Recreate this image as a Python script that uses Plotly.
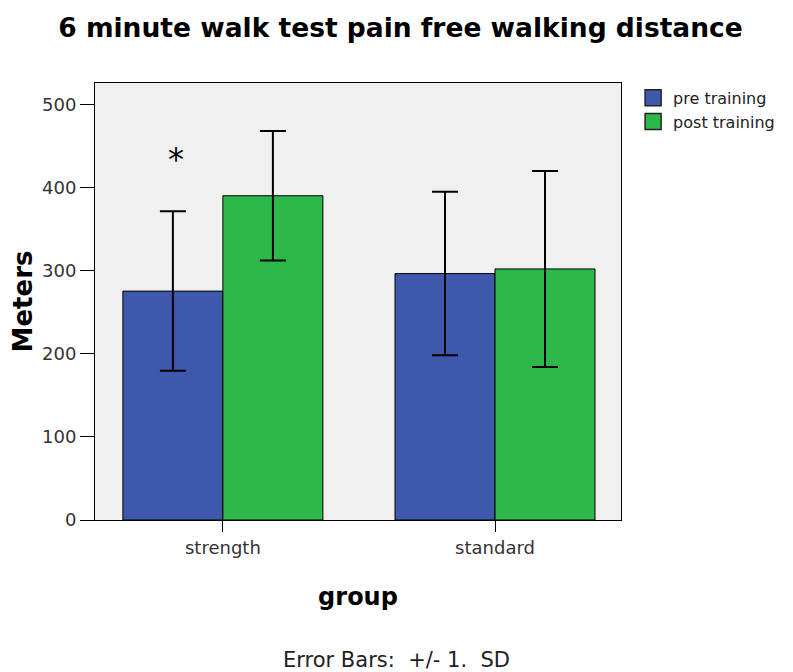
import plotly.graph_objects as go

# values (meters)
groups = ["strength", "standard"]
pre_mean = [275.5, 296.6]
pre_sd = [96.0, 98.4]
post_mean = [390.3, 302.2]
post_sd = [78.0, 118.0]

FONT = "DejaVu Sans, Arial, sans-serif"
BLUE = "#3e58ac"
GREEN = "#2eb84a"

# the page adds an 8px body margin, so the figure is a bit smaller than the window
W, H = 785, 664
L, R, T, B = 87, 172, 75, 152
plot_w = W - L - R
plot_h = H - T - B

fig = go.Figure()

fig.add_trace(go.Bar(
    x=groups, y=pre_mean, name="pre training", showlegend=False,
    marker=dict(color=BLUE, line=dict(color="black", width=1)),
    error_y=dict(type="data", array=pre_sd, visible=True,
                 color="black", thickness=2, width=13),
))
fig.add_trace(go.Bar(
    x=groups, y=post_mean, name="post training", showlegend=False,
    marker=dict(color=GREEN, line=dict(color="black", width=1)),
    error_y=dict(type="data", array=post_sd, visible=True,
                 color="black", thickness=2, width=13),
))

# larger square swatches for the legend (legend-only entries)
for name, color in [("pre training", BLUE), ("post training", GREEN)]:
    fig.add_trace(go.Scatter(
        x=[None], y=[None], mode="markers", name=name,
        marker=dict(symbol="square", size=16, color=color,
                    line=dict(color="#222", width=1.5)),
    ))

# significance marker above strength / pre training
fig.add_annotation(x=-0.173, y=434, xref="x", yref="y", text="*",
                   showarrow=False, font=dict(family=FONT, size=32, color="black"))

fig.add_annotation(x=(388 - L) / plot_w, y=-(652 - T - plot_h) / plot_h,
                   xref="paper", yref="paper",
                   text="Error Bars:  +/- 1.  SD", showarrow=False,
                   font=dict(family=FONT, size=21, color="#222"),
                   xanchor="center", yanchor="middle")

fig.update_layout(
    width=W, height=H,
    barmode="group", bargap=0.265, bargroupgap=0,
    plot_bgcolor="#f0f0f0", paper_bgcolor="white",
    margin=dict(l=L, r=R, t=T, b=B, autoexpand=False),
    title=dict(text="<b>6 minute walk test pain free walking distance</b>",
               x=0.5, xanchor="center", y=1 - 20 / H, yanchor="middle",
               font=dict(family=FONT, size=26.5, color="black")),
    font=dict(family=FONT, size=18, color="#333"),
    showlegend=True,
    legend=dict(x=1.023, y=1.005, xanchor="left", yanchor="top",
                bgcolor="rgba(0,0,0,0)", font=dict(size=16, color="#222"),
                tracegroupgap=0, itemwidth=30, itemsizing="trace"),
    xaxis=dict(
        range=[-0.47, 1.463], showline=True, linecolor="black", linewidth=1,
        mirror=True, ticks="outside", ticklen=11, tickcolor="black",
        showgrid=False, automargin=False,
        title=dict(text="<b>group</b>", font=dict(size=24, color="black"), standoff=31),
    ),
    yaxis=dict(
        range=[0, 526], tickvals=[0, 100, 200, 300, 400, 500],
        showline=True, linecolor="black", linewidth=1, mirror=True,
        ticks="outside", ticklen=14, tickcolor="black",
        showgrid=False, zeroline=False, automargin=False,
        title=dict(text="<b>Meters</b>", font=dict(size=26, color="black"), standoff=6),
    ),
)

fig.write_html("out.html")
